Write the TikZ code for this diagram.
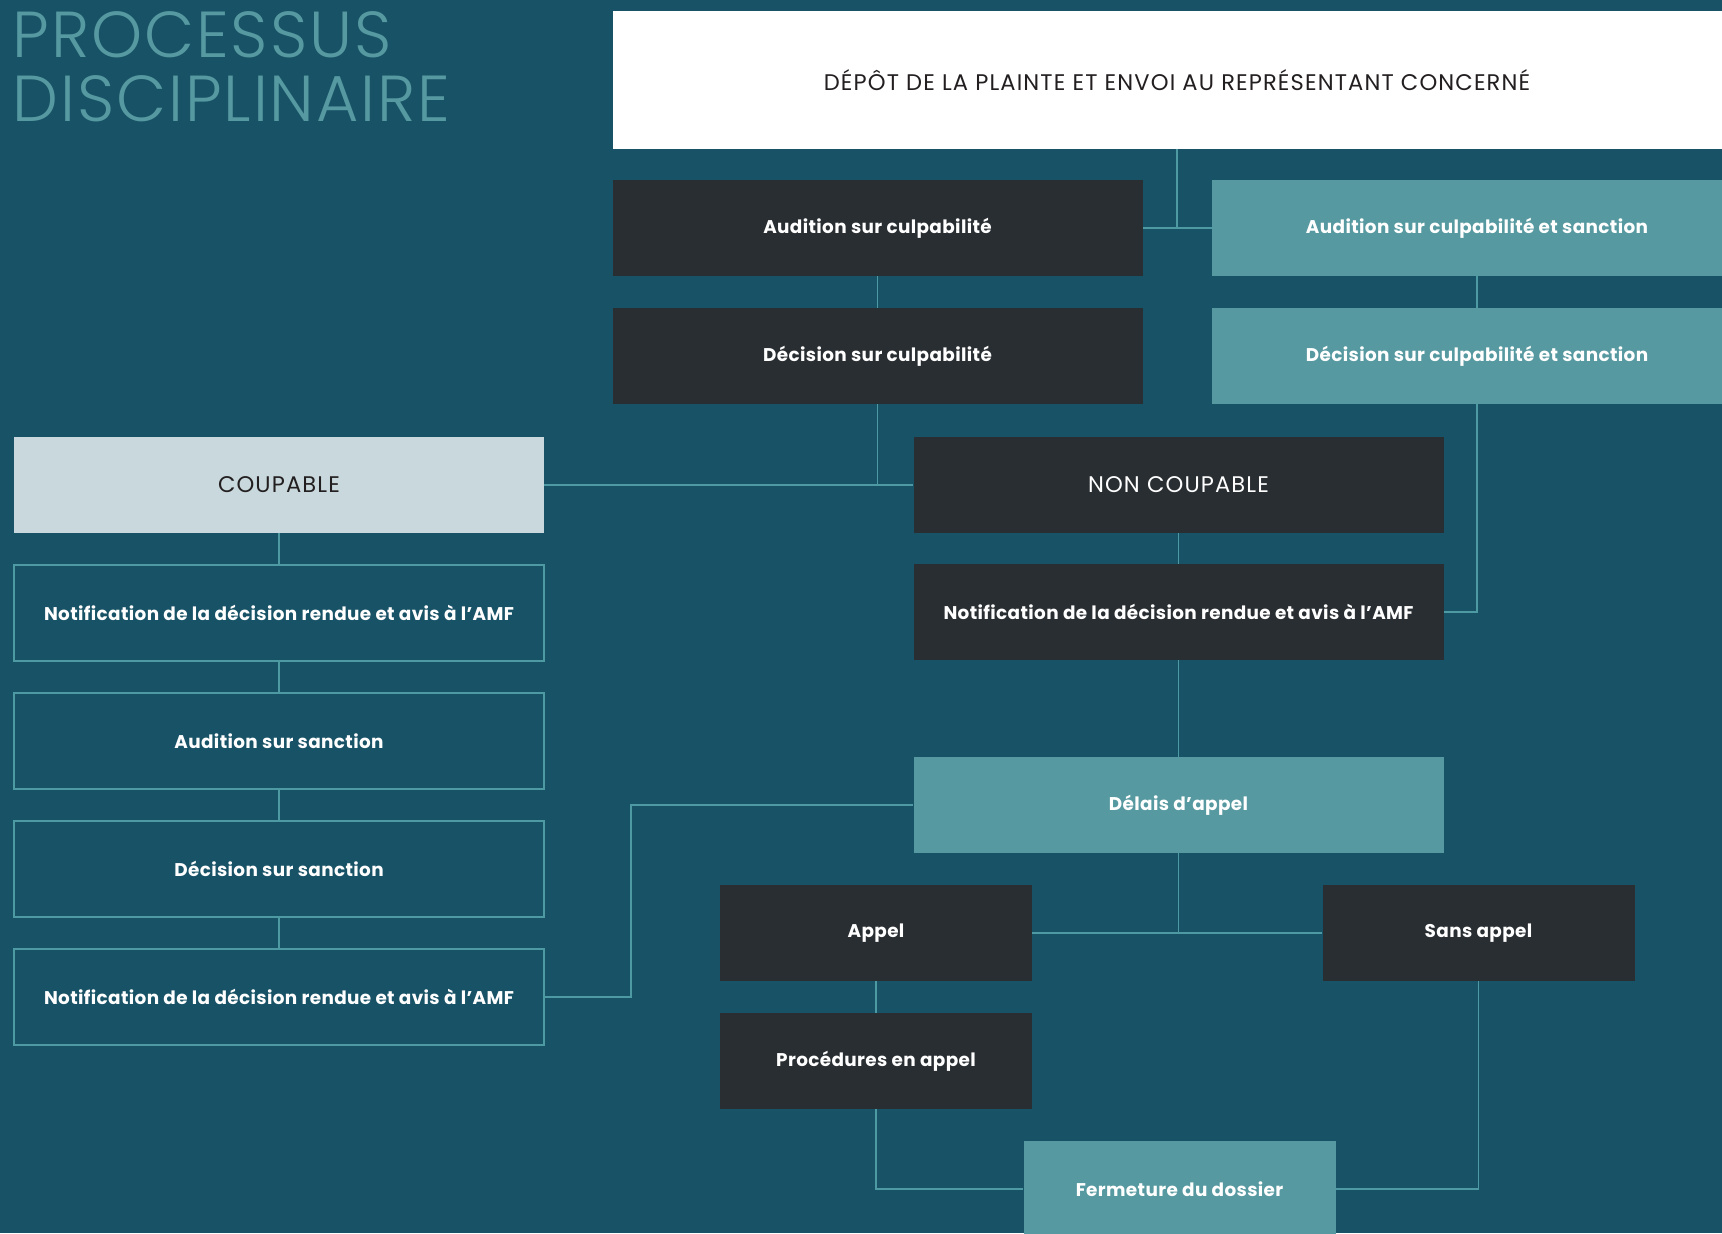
\documentclass[tikz,border=0pt]{standalone}
\usepackage{fontspec}
\setmainfont{Poppins}[LetterSpace=2]
\newfontfamily\titlefont{Poppins Light}[LetterSpace=3]
\newfontfamily\capsfont{Poppins}[LetterSpace=5]

\definecolor{bgteal}{HTML}{185266}
\definecolor{darkfill}{HTML}{292E32}
\definecolor{tealfill}{HTML}{5699A0}
\definecolor{palefill}{HTML}{C8D8DC}
\definecolor{linkteal}{HTML}{4E9AA3}
\definecolor{inkdark}{HTML}{231F20}

\tikzset{
    phase/.style={minimum width=265pt, minimum height=48pt, inner sep=0pt,
        font=\fontsize{9.2}{11}\selectfont\bfseries, text=white},
    phase dark/.style={phase, fill=darkfill},
    phase teal/.style={phase, fill=tealfill},
    phase open/.style={phase, fill=bgteal, draw=linkteal, line width=0.6pt},
    caps/.style={font=\capsfont\fontsize{11.3}{13}\selectfont},
    phase pale/.style={phase, fill=palefill, text=inkdark, caps},
    phase white/.style={phase, fill=white, text=inkdark, caps},
    link/.style={draw=linkteal, line width=0.8pt},
}

\begin{document}
\begin{tikzpicture}[x=0.5pt, y=-0.5pt]
    % background and page size
    \fill[bgteal] (0,0) rectangle (1722,1233);
    \useasboundingbox (0,0) rectangle (1722,1233);

    % TITLE
    \node[anchor=north west, inner sep=0pt, align=left, text=tealfill,
        font=\titlefont\fontsize{32.5}{32}\selectfont] (titre) at (12,11)
        {PROCESSUS\\DISCIPLINAIRE};

    % TOP: complaint
    \node[phase white, minimum width=564pt, minimum height=69pt] (plainte) at (1177,80)
        {DÉPÔT DE LA PLAINTE ET ENVOI AU REPRÉSENTANT CONCERNÉ};

    % MIDDLE: guilt only
    \node[phase dark] (audC) at (877.5,228) {Audition sur culpabilité};
    \node[phase dark] (decC) at (877.5,356) {Décision sur culpabilité};

    % RIGHT: guilt and sanction together
    \node[phase teal] (audCS) at (1477,228) {Audition sur culpabilité et sanction};
    \node[phase teal] (decCS) at (1477,356) {Décision sur culpabilité et sanction};

    % Verdict
    \node[phase pale] (coup) at (279,485) {COUPABLE};
    \node[phase dark, caps] (noncoup) at (1178.5,485) {NON COUPABLE};
    \node[phase dark] (notifN) at (1178.5,612) {Notification de la décision rendue et avis à l’AMF};

    % LEFT: sanction path
    \node[phase open] (notifC) at (279,613) {Notification de la décision rendue et avis à l’AMF};
    \node[phase open] (audS) at (279,741) {Audition sur sanction};
    \node[phase open] (decS) at (279,869) {Décision sur sanction};
    \node[phase open] (notifS) at (279,997) {Notification de la décision rendue et avis à l’AMF};

    % BOTTOM: appeal
    \node[phase teal] (delais) at (1178.5,805) {Délais d’appel};
    \node[phase dark, minimum width=156pt] (appel) at (876,933) {Appel};
    \node[phase dark, minimum width=156pt] (sansappel) at (1478.5,933) {Sans appel};
    \node[phase dark, minimum width=156pt] (proc) at (876,1061) {Procédures en appel};
    \node[phase teal, minimum width=156pt] (ferm) at (1179.5,1189) {Fermeture du dossier};

    % Connectors
    \draw[link] (plainte.south) -- (plainte.south |- audC.east);
    \draw[link] (audC.east) -- (audCS.west);
    \draw[link] (audC) -- (decC);
    \draw[link] (decC.south) -- (decC.south |- coup.east);
    \draw[link] (coup.east) -- (noncoup.west);
    \draw[link] (audCS) -- (decCS);
    \draw[link] (decCS.south) |- (notifN.east);
    \draw[link] (noncoup) -- (notifN);
    \draw[link] (notifN) -- (delais);
    \draw[link] (coup) -- (notifC);
    \draw[link] (notifC) -- (audS);
    \draw[link] (audS) -- (decS);
    \draw[link] (decS) -- (notifS);
    \coordinate (detour) at (631,997);
    \draw[link] (notifS.east) -- (detour) |- (delais.west);
    \draw[link] (delais.south) -- (delais.south |- appel.east);
    \draw[link] (appel.east) -- (sansappel.west);
    \draw[link] (appel) -- (proc);
    \draw[link] (proc.south) |- (ferm.west);
    \draw[link] (sansappel.south) |- (ferm.east);
\end{tikzpicture}
\end{document}
